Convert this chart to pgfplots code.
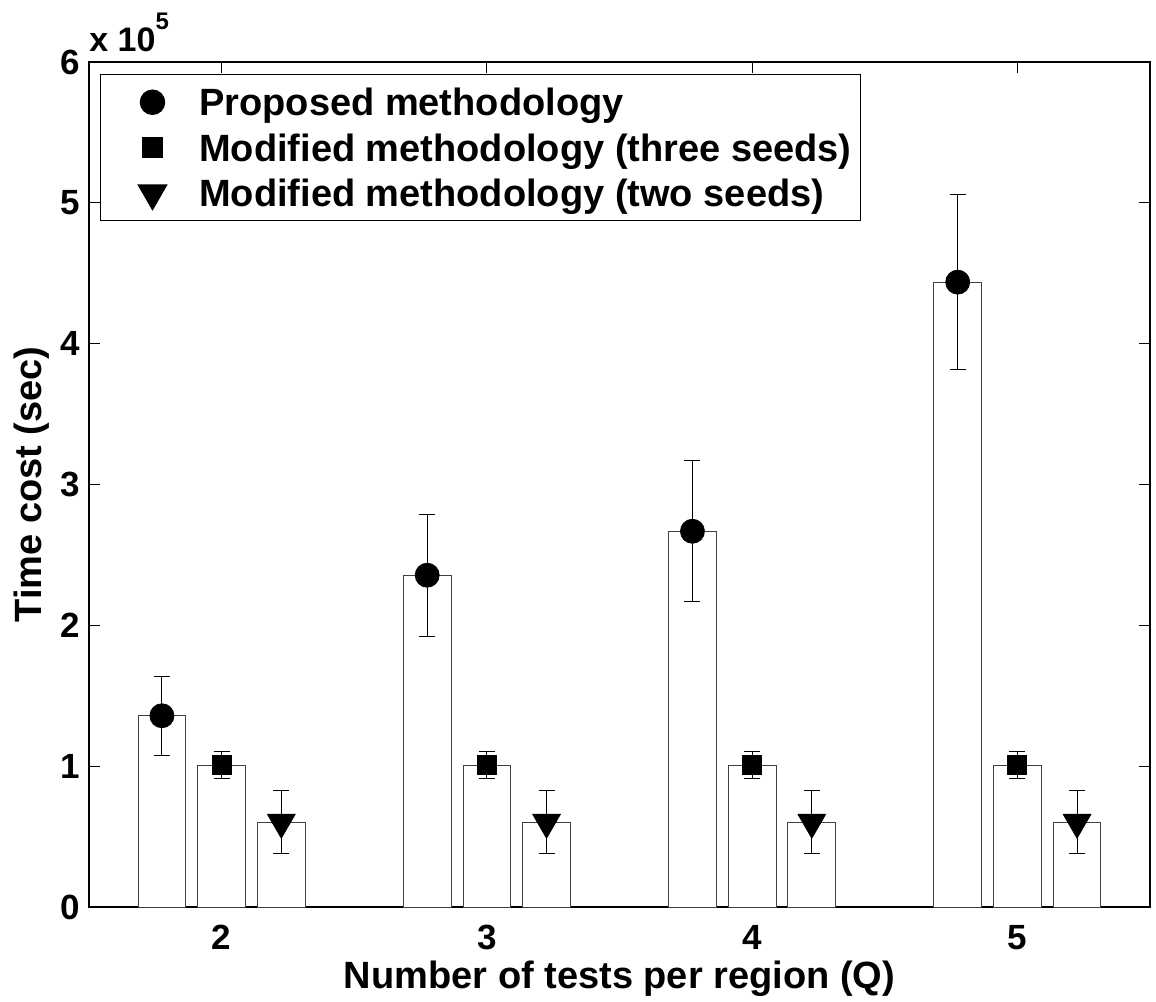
\documentclass[border=0pt]{standalone}
\usepackage{fontspec}
\setmainfont{Liberation Sans}
\usepackage{pgfplots}
\pgfplotsset{compat=1.18}
\usepackage{pgfplotstable}

\newcommand\lblfont{\bfseries\fontsize{19}{22}\selectfont}
\newcommand\tickfont{\bfseries\fontsize{17.5}{20}\selectfont}

% Time cost in units of 10^5 s: mean and half-width of the error bar
\pgfplotstableread{
Q  t      err
2  1.358  0.281
3  2.356  0.434
4  2.668  0.499
5  4.437  0.622
}\proposed
\pgfplotstableread{
Q  t      err
2  1.007  0.096
3  1.007  0.096
4  1.007  0.096
5  1.007  0.096
}\threeseeds
\pgfplotstableread{
Q  t      err
2  0.602  0.224
3  0.602  0.224
4  0.602  0.224
5  0.602  0.224
}\twoseeds

\pgfplotsset{
  bx/.style={ybar, bar width=0.18, bar shift=0pt, fill=white,
    draw=black!75, line width=0.5pt, forget plot},
  mk/.style={only marks, black,
    legend image code/.code={\path (-21pt,0pt) (12pt,0pt);
      \draw[##1] plot coordinates {(0pt,0pt)};},
    error bars/y dir=both, error bars/y explicit,
    error bars/error bar style={line width=0.5pt, black},
    error bars/error mark options={rotate=90, mark size=4pt, line width=0.5pt, black}},
}

\begin{document}
\begin{tikzpicture}
\path[use as bounding box] (-44.5pt,-47pt) rectangle (533.5pt,453.5pt);
\begin{axis}[
  scale only axis, width=530.5pt, height=422.5pt,
  xmin=1.5, xmax=5.5, ymin=0, ymax=6,
  xtick={2,3,4,5}, ytick={0,1,2,3,4,5,6},
  tick align=inside, major tick length=5.5pt,
  axis line style={line width=0.8pt},
  every tick/.style={black, line width=0.5pt},
  tick label style={font=\tickfont},
  /pgf/number format/assume math mode=true,
  xticklabel style={inner sep=0pt, anchor=north, yshift=-9pt},
  yticklabel style={inner sep=0pt, anchor=east, xshift=-4.5pt},
  xlabel={Number of tests per region (Q)},
  ylabel={Time cost (sec)},
  label style={font=\lblfont},
  xlabel style={at={([yshift=-40.5pt]axis description cs:0.5,0)}, anchor=base, inner sep=0pt},
  ylabel style={at={([xshift=-23.5pt]axis description cs:0,0.5)}, anchor=base, inner sep=0pt},
  legend style={at={([xshift=5.5pt,yshift=-6pt]axis description cs:0,1)},
    anchor=north west, draw=black, line width=0.75pt,
    inner xsep=4.5pt, inner ysep=2pt, row sep=-0.75pt, column sep=11pt,
    nodes={inner sep=0pt, text height=18.5pt, text depth=5pt, font=\lblfont}},
  legend cell align=left,
]
\addplot[bx] table[x expr=\thisrow{Q}-0.225, y=t] {\proposed};
\addplot[bx] table[x expr=\thisrow{Q}, y=t] {\threeseeds};
\addplot[bx] table[x expr=\thisrow{Q}+0.225, y=t] {\twoseeds};

\addplot[mk, mark=*, mark size=6pt, mark options={fill=black}]
  table[x expr=\thisrow{Q}-0.225, y=t, y error=err] {\proposed};
\addlegendentry{Proposed methodology}
\addplot[mk, mark=square*, mark size=4.75pt, mark options={fill=black}]
  table[x expr=\thisrow{Q}, y=t, y error=err] {\threeseeds};
\addlegendentry{Modified methodology (three seeds)}
\addplot[mk, mark=triangle*, mark size=8pt, mark options={fill=black, rotate=180}]
  table[x expr=\thisrow{Q}+0.225, y=t, y error=err] {\twoseeds};
\addlegendentry{Modified methodology (two seeds)}
\end{axis}
% scale factor of the y axis, above its top end
\node[anchor=base west, inner sep=0pt, font=\bfseries\fontsize{17}{20}\selectfont]
  at ([yshift=5pt]current axis.north west) {x 10\raisebox{11pt}{\fontsize{12}{12}\selectfont 5}};
\end{tikzpicture}
\end{document}
